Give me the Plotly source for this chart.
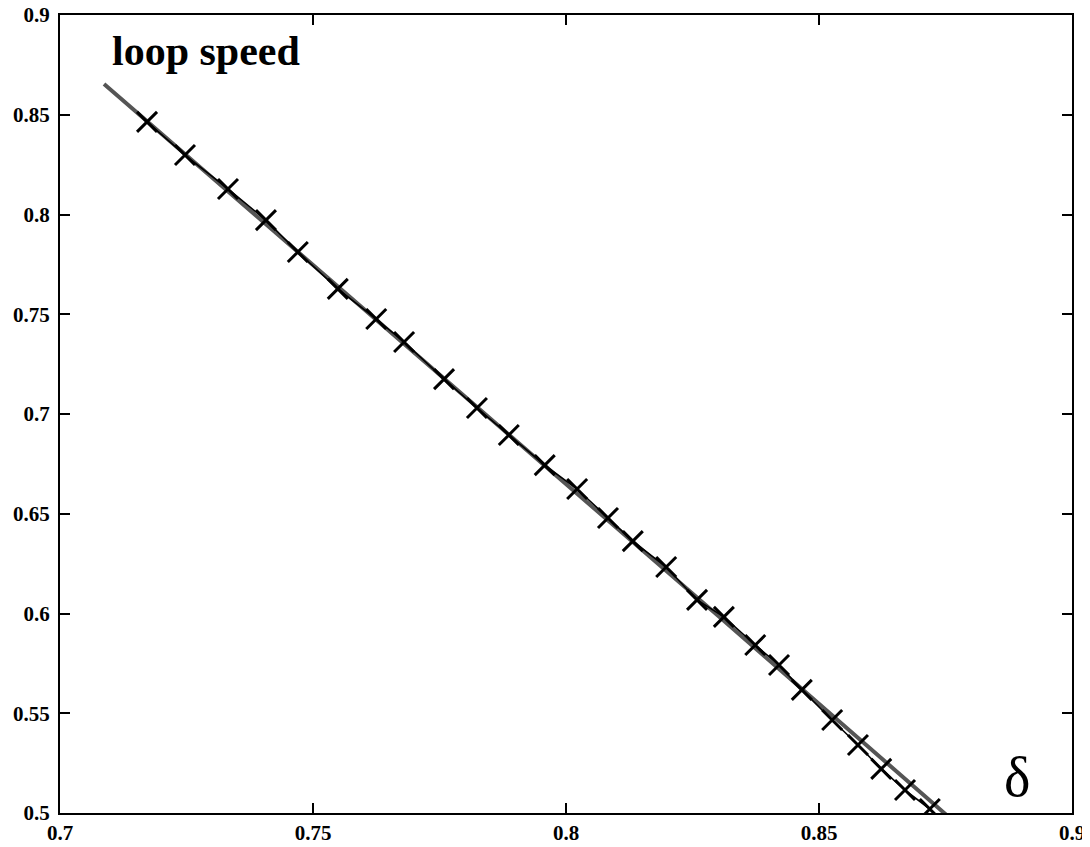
import plotly.graph_objects as go

# Measured data (crosses joined by thin line)
delta = [0.7172, 0.7247, 0.7332, 0.7407, 0.7470, 0.7549, 0.7625, 0.7680, 0.7759,
         0.7824, 0.7887, 0.7958, 0.8022, 0.8083, 0.8132, 0.8198, 0.8259, 0.8312,
         0.8374, 0.8421, 0.8466, 0.8526, 0.8577, 0.8623, 0.8670, 0.8719]
speed = [0.8464, 0.8298, 0.8128, 0.7972, 0.7812, 0.7627, 0.7476, 0.7361, 0.7175,
         0.7030, 0.6895, 0.6744, 0.6624, 0.6479, 0.6363, 0.6233, 0.6068, 0.5983,
         0.5842, 0.5742, 0.5617, 0.5466, 0.5341, 0.5221, 0.5115, 0.5020]

# Fitted curve (thick grey line)
fit_delta = [0.7087, 0.7700, 0.8300, 0.8770]
fit_speed = [0.8654, 0.7310, 0.5990, 0.4950]

x_ticks = [0.7, 0.75, 0.8, 0.85, 0.9]
x_tick_text = ["0.7", "0.75", "0.8", "0.85", "0.9"]
y_ticks = [0.5, 0.55, 0.6, 0.65, 0.7, 0.75, 0.8, 0.85, 0.9]
y_tick_text = ["0.5", "0.55", "0.6", "0.65", "0.7", "0.75", "0.8", "0.85", "0.9"]

SERIF = "Liberation Serif, Times New Roman, serif"

fig = go.Figure()
fig.add_trace(go.Scatter(
    x=fit_delta, y=fit_speed, mode="lines",
    line=dict(color="#555555", width=4),
    showlegend=False, hoverinfo="skip"))
fig.add_trace(go.Scatter(
    x=delta, y=speed, mode="lines+markers",
    line=dict(color="black", width=1.6),
    marker=dict(symbol="x-thin", size=20, color="black",
                line=dict(color="black", width=3)),
    cliponaxis=True,
    showlegend=False))

axis_common = dict(
    showline=True, linecolor="black", linewidth=2, mirror="ticks",
    ticks="inside", ticklen=10, tickwidth=1.5, tickcolor="black",
    showgrid=False, zeroline=False, automargin=False,
    ticklabeloverflow="allow",
    tickfont=dict(family=SERIF, size=21, color="black", weight="bold"),
)

# page body has an 8px margin, so the figure is offset to land on the same pixels
fig.update_layout(
    width=1082, height=839,
    margin=dict(l=52, r=18, t=7, b=34),
    paper_bgcolor="white", plot_bgcolor="white",
    xaxis=dict(range=[0.7, 0.9], tickvals=x_ticks, ticktext=x_tick_text, **axis_common),
    yaxis=dict(range=[0.5, 0.9], tickvals=y_ticks, ticktext=y_tick_text,
               ticklabelstandoff=4, **axis_common),
    annotations=[
        dict(x=0.7289, y=0.882, xref="x", yref="y", text="<b>loop speed</b>",
             showarrow=False, font=dict(family=SERIF, size=42, color="black")),
        dict(x=0.8891, y=0.518, xref="x", yref="y", text="δ",
             showarrow=False, font=dict(family=SERIF, size=56, color="black")),
    ],
)

fig.write_html("out.html")
